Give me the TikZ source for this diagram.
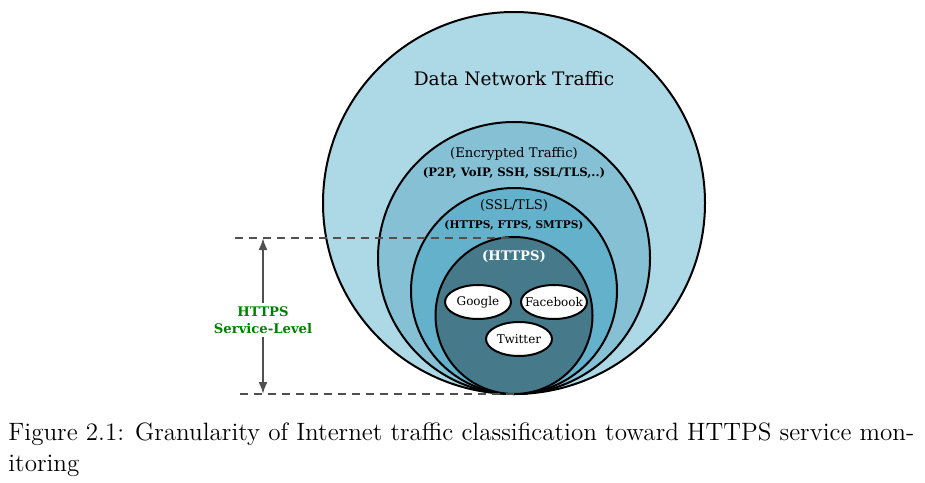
\documentclass[tikz,border=0pt]{standalone}
\usepackage{fontspec}
\newfontfamily\figfont{DejaVu Serif}
\usetikzlibrary{arrows.meta,positioning,shapes.geometric}
\definecolor{lvlone}{HTML}{ADD8E6}
\definecolor{lvltwo}{HTML}{86C0D4}
\definecolor{lvlthree}{HTML}{64B1CC}
\definecolor{lvlfour}{HTML}{467A8B}
\definecolor{guide}{HTML}{505050}
\definecolor{levelgreen}{HTML}{008000}

\begin{document}
\begin{tikzpicture}[x=0.5pt, y=-0.5pt,
  ring/.style={draw, circle, line width=1pt, inner sep=0pt, outer sep=0pt,
    anchor=south},
  tag/.style={align=center, inner sep=0pt,
    font=\figfont\fontsize{6.6}{9.5}\selectfont},
  site/.style={draw, fill=white, ellipse, line width=1pt, minimum width=33pt,
    minimum height=17pt, inner sep=0pt, inner xsep=-8pt,
    font=\figfont\fontsize{6}{7}\selectfont},
  guideline/.style={guide, line width=1pt, dash pattern=on 4pt off 3pt}]
\useasboundingbox (0,0) rectangle (925,482);
\coordinate (base) at (514,394);
\node (traffic) [ring, fill=lvlone, minimum size=191pt] at (base) {};
\node (encrypted) [ring, fill=lvltwo, minimum size=136pt] at (base) {};
\node (ssltls) [ring, fill=lvlthree, minimum size=103pt] at (base) {};
\node (https) [ring, fill=lvlfour, minimum size=78.5pt] at (base) {};
\node (traffictext) [tag, font=\figfont\fontsize{9.3}{11}\selectfont,
  below=29.5pt of traffic.north] {Data Network Traffic};
\node (encryptedtext) [tag, below=12.5pt of encrypted.north]
  {(Encrypted Traffic)\\
   {\fontsize{5.85}{7}\selectfont\bfseries(P2P, VoIP, SSH, SSL/TLS,..)}};
\node (ssltlstext) [tag, below=5.5pt of ssltls.north]
  {(SSL/TLS)\\
   {\fontsize{5.3}{7}\selectfont\bfseries(HTTPS, FTPS, SMTPS)}};
\node (httpstext) [tag, text=white, below=6.5pt of https.north]
  {\textbf{(HTTPS)}};
\node (google) [site] at (478,302) {Google};
\node (facebook) [site, right=4pt of google] {Facebook};
\node (twitter) [site] at (519,339) {Twitter};
% service level marker
\coordinate (dashtop) at (235,238);
\coordinate (dashbot) at (240,394);
\coordinate (lvltop) at (263,238);
\coordinate (lvlbot) at (263,394);
\draw[guideline] (dashtop) -- (dashtop -| https.north);
\draw[guideline] (dashbot) -- (base);
\draw[guide, line width=1pt,
  {Latex[length=6pt,width=4.5pt]}-{Latex[length=6pt,width=4.5pt]}]
  (lvltop) -- node (level) [fill=white, text=levelgreen, align=center,
    inner sep=2pt, yshift=-2pt,
    font=\figfont\bfseries\fontsize{6.6}{8.5}\selectfont]
  {HTTPS\\Service-Level} (lvlbot);
\node (caption) [anchor=north west, align=left, inner sep=0pt,
  font=\fontsize{12.55}{15.5}\selectfont] at (8,422)
  {Figure 2.1: Granularity of Internet traffic classification toward HTTPS service mon-\\itoring};
\end{tikzpicture}
\end{document}
